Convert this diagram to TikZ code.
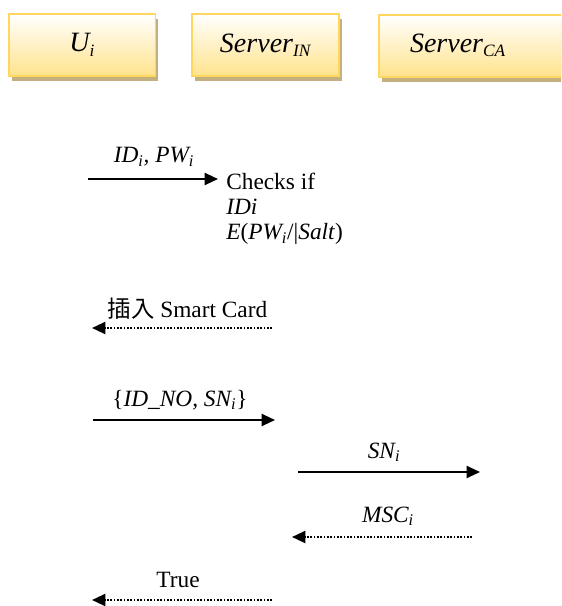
\documentclass[tikz,border=0pt]{standalone}
\usepackage{fontspec}
\setmainfont{Liberation Serif}
\newfontfamily\cjkfont{Noto Sans CJK TC}
\usetikzlibrary{arrows.meta,shadows}
\definecolor{boxedge}{HTML}{FFD75E}
\definecolor{boxlow}{HTML}{FFE38C}
\definecolor{boxshade}{HTML}{C4B07E}
\newcommand\bigfont{\fontsize{21}{24}\selectfont}
\newcommand\msgfont{\fontsize{17.5}{19}\selectfont}
\newcommand\subtxt[1]{\textsubscript{\fontsize{13}{13}\selectfont #1}}
\tikzset{
  party/.style={draw=boxedge, line width=1.3pt, top color=white, bottom color=boxlow,
    minimum height=46.5pt, inner sep=0pt,
    drop shadow={shadow xshift=2pt, shadow yshift=-3.5pt, fill=boxshade, opacity=1}},
  partyname/.style={font=\bigfont\itshape, inner sep=0pt},
  msg/.style={line width=1.5pt, -{Triangle[length=10pt,width=9pt]}},
  reply/.style={line width=1.6pt, dash pattern=on 1.2pt off 1.3pt, -{Triangle[length=10pt,width=9pt]}},
  lbl/.style={font=\msgfont, inner sep=0pt},
}
\begin{document}
\begin{tikzpicture}[x=0.75pt,y=-0.75pt]
\useasboundingbox (0,0) rectangle (561,606);
\begin{scope}
\clip (0,0) rectangle (561,606);
% the three parties
\node[party, minimum width=110pt, anchor=north west] (u) at (8,13) {};
\node[partyname] (un) at (u.center) {U\subtxt{i}};
\node[party, minimum width=110.5pt, anchor=north west] (sin) at (191,13) {};
\node[partyname] (sinn) at (sin.center) {Server\subtxt{IN}};
\node[party, minimum width=148pt, anchor=north west] (sca) at (378,14) {};
\node[partyname] (scan) at (458,45) {Server\subtxt{CA}};
\end{scope}

% end points of the messages
\coordinate (a1s) at (88,179);  \coordinate (a1e) at (218,179);
\coordinate (a2s) at (272,328); \coordinate (a2e) at (92,328);
\coordinate (a3s) at (93,420);  \coordinate (a3e) at (275,420);
\coordinate (a4s) at (298,472); \coordinate (a4e) at (480,472);
\coordinate (a5s) at (472,537); \coordinate (a5e) at (292,537);
\coordinate (a6s) at (272,600); \coordinate (a6e) at (92,600);

% registration request
\draw[msg] (a1s) -- (a1e);
\node[lbl] (l1) at (154,157) {\textit{ID\textsubscript{i}, PW\textsubscript{i}}};
\node[lbl, anchor=north west, align=left] (chk) at (226,172.5)
  {Checks if\\ \textit{IDi}\\ \textit{E}(\textit{PW\textsubscript{i}}/|\textit{Salt})};

% smart card issued
\draw[reply] (a2s) -- (a2e);
\node[lbl] (l2) at (187.5,309) {{\cjkfont 插入} Smart Card};

% card activation
\draw[msg] (a3s) -- (a3e);
\node[lbl] (l3) at (180,400) {\{\textit{ID\_NO, SN\textsubscript{i}}\}};

\draw[msg] (a4s) -- (a4e);
\node[lbl] (l4) at (384,452) {\textit{SN\textsubscript{i}}};

\draw[reply] (a5s) -- (a5e);
\node[lbl] (l5) at (388,516) {\textit{MSC\textsubscript{i}}};

\draw[reply] (a6s) -- (a6e);
\node[lbl] (l6) at (178,580) {True};
\end{tikzpicture}
\end{document}
